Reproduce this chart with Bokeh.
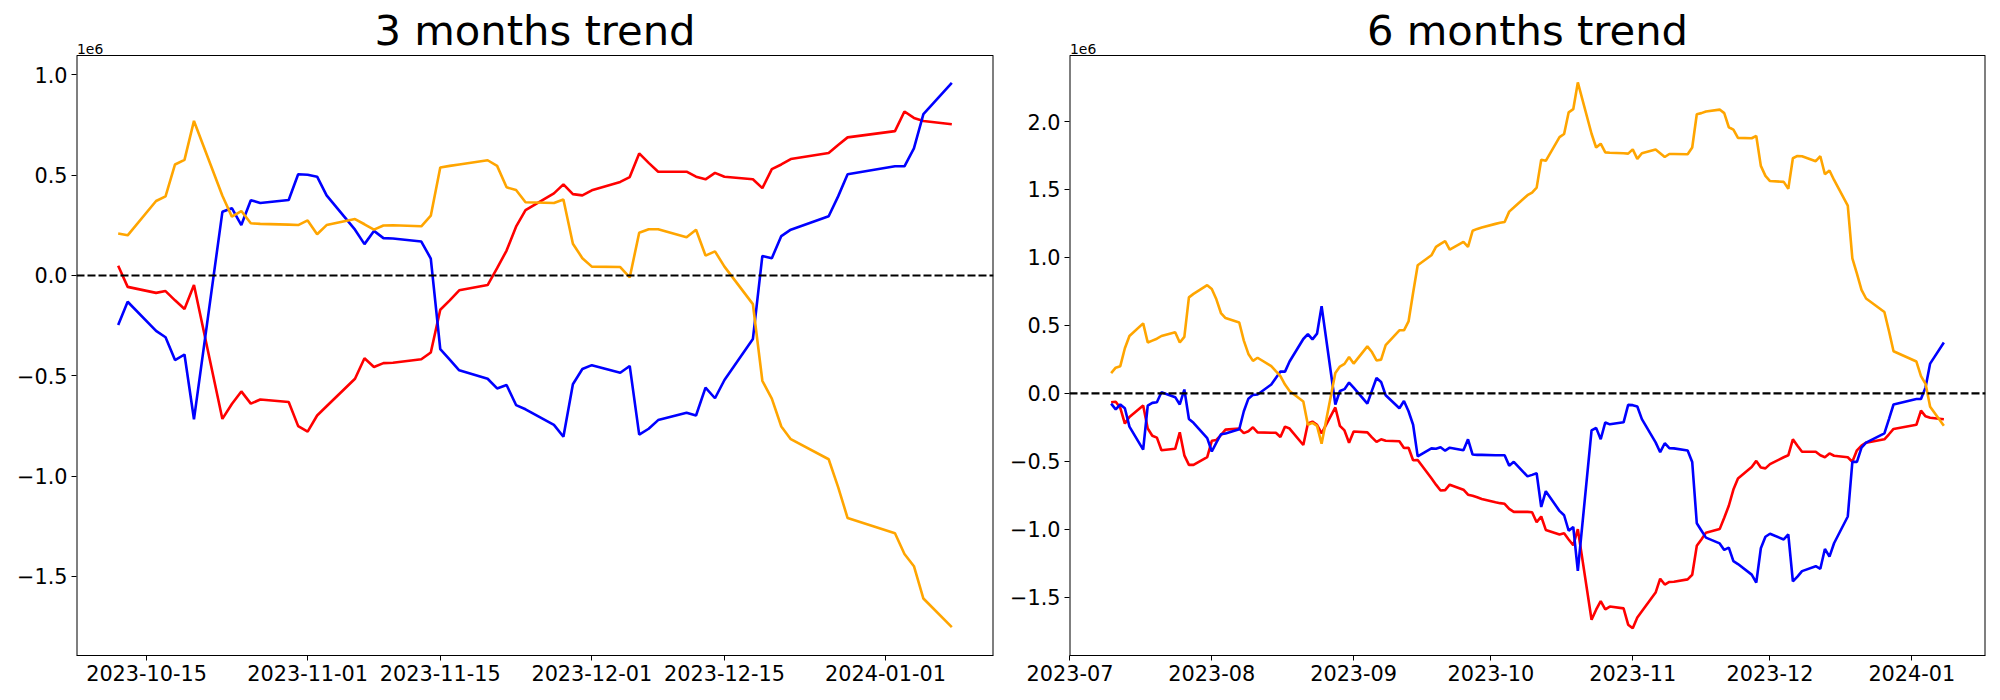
import pandas as pd
from bokeh.plotting import figure
from bokeh.layouts import row
from bokeh.models import (Range1d, FixedTicker, Span, Label, ColumnDataSource,
                          CustomJSTickFormatter)
from bokeh.embed import file_html
from bokeh.resources import INLINE

# ---------------- data (values in units of 1e6) ----------------
skip_days = ["2023-12-25", "2023-12-29", "2024-01-01"]


def trading_days(start, end):
    return [d for d in pd.bdate_range(start, end) if d.strftime("%Y-%m-%d") not in skip_days]


dates_3m = trading_days("2023-10-12", "2024-01-08")
dates_6m = trading_days("2023-07-10", "2024-01-08")

# 3 months trend
red_3m = [0.048, -0.057, -0.087, -0.078, -0.124, -0.167, -0.048, -0.715, -0.641, -0.578, -0.639, -0.618, -0.631, -0.751,
          -0.778, -0.698, -0.652, -0.515, -0.413, -0.456, -0.437, -0.435, -0.418, -0.384, -0.171, -0.124, -0.074,
          -0.048, 0.036, 0.124, 0.243, 0.325, 0.409, 0.454, 0.405, 0.399,
          0.424, 0.466, 0.490, 0.608, 0.561, 0.517, 0.517, 0.492, 0.479, 0.511, 0.492, 0.479, 0.435, 0.530, 0.553,
          0.580, 0.610, 0.650, 0.688,
          0.719, 0.817, 0.785, 0.770, 0.753]
blue_3m = [-0.247, -0.131, -0.276, -0.308, -0.422, -0.394, -0.717, 0.317, 0.335, 0.251, 0.375, 0.361, 0.376, 0.504,
           0.502, 0.492, 0.399, 0.228, 0.156, 0.222, 0.186, 0.184, 0.169, 0.084, -0.367, -0.420, -0.473,
           -0.515, -0.563, -0.546, -0.646, -0.667, -0.745, -0.804, -0.542, -0.466,
           -0.447, -0.485, -0.451, -0.793, -0.764, -0.721, -0.684, -0.698, -0.559, -0.612, -0.521, -0.317, 0.097,
           0.086, 0.196, 0.228, 0.295, 0.394, 0.504,
           0.544, 0.544, 0.633, 0.804, 0.960]
orange_3m = [0.209, 0.200, 0.371, 0.394, 0.553, 0.576, 0.770, 0.397, 0.293, 0.321, 0.260, 0.257, 0.253, 0.251,
             0.274, 0.205, 0.251, 0.281, 0.255, 0.228, 0.249, 0.250, 0.245, 0.298, 0.538, 0.546, 0.553,
             0.574, 0.546, 0.439, 0.426, 0.365, 0.361, 0.378, 0.158, 0.086,
             0.044, 0.042, -0.010, 0.213, 0.230, 0.230, 0.190, 0.228, 0.099, 0.120, 0.044, -0.143, -0.525, -0.614,
             -0.753, -0.816, -0.916, -1.055, -1.209,
             -1.285, -1.388, -1.449, -1.610, -1.753]

# 6 months trend
red_6m = [-0.065, -0.062, -0.107, -0.222, -0.174, -0.090, -0.259, -0.312, -0.326, -0.419, -0.408, -0.287, -0.456,
          -0.526, -0.526, -0.470,
          -0.349, -0.343, -0.307, -0.267, -0.259, -0.293, -0.279, -0.250, -0.287, -0.290, -0.290, -0.321, -0.245,
          -0.259, -0.380, -0.222, -0.208, -0.231, -0.295, -0.104, -0.239, -0.273, -0.363,
          -0.281, -0.287, -0.324, -0.357, -0.338, -0.349, -0.352, -0.402, -0.400, -0.492, -0.490, -0.625, -0.672,
          -0.715, -0.712, -0.672, -0.709, -0.746, -0.754, -0.765, -0.777,
          -0.802, -0.808, -0.813, -0.850, -0.872, -0.872, -0.875, -0.948, -0.906, -1.005, -1.038, -1.029, -1.075,
          -1.118, -0.999, -1.666, -1.592, -1.529, -1.590, -1.569, -1.582, -1.702,
          -1.729, -1.649, -1.603, -1.466, -1.364, -1.407, -1.388, -1.386, -1.369, -1.335, -1.122, -1.075, -1.025,
          -0.999, -0.915, -0.827, -0.708, -0.626, -0.542, -0.497, -0.546, -0.552,
          -0.521, -0.470, -0.456, -0.338, -0.385, -0.430, -0.430, -0.456, -0.470, -0.442, -0.459, -0.470, -0.504,
          -0.419, -0.385, -0.363, -0.338, -0.301, -0.262,
          -0.231, -0.127, -0.169, -0.180, -0.191]
blue_6m = [-0.076, -0.118, -0.082, -0.110, -0.245, -0.414, -0.090, -0.070, -0.065, 0.008, -0.028, -0.082, 0.028,
           -0.189, -0.217, -0.329,
           -0.428, -0.363, -0.301, -0.295, -0.264, -0.132, -0.039, -0.011, -0.008, 0.065, 0.113, 0.160, 0.160,
           0.234, 0.400, 0.436, 0.397, 0.439, 0.642, -0.082, 0.017, 0.031, 0.079,
           0.042, -0.076, 0.020, 0.113, 0.084, -0.014, -0.110, -0.056, -0.132, -0.231, -0.464, -0.405, -0.408,
           -0.397, -0.422, -0.400, -0.419, -0.338, -0.450, -0.453, -0.453,
           -0.456, -0.456, -0.456, -0.532, -0.504, -0.611, -0.600, -0.588, -0.836, -0.720, -0.865, -0.897, -1.011,
           -0.983, -1.306, -0.273, -0.254, -0.338, -0.214, -0.228, -0.213, -0.085,
           -0.087, -0.097, -0.190, -0.361, -0.433, -0.367, -0.403, -0.405, -0.420, -0.505, -0.956, -1.009, -1.062,
           -1.104, -1.152, -1.135, -1.235, -1.256, -1.334, -1.393, -1.140, -1.055,
           -1.033, -1.075, -1.038, -1.384, -1.348, -1.308, -1.272, -1.291, -1.145, -1.201, -1.103, -0.906, -0.504,
           -0.504, -0.400, -0.363, -0.295, -0.189, -0.082,
           -0.042, -0.042, 0.044, 0.219, 0.374]
orange_6m = [0.149, 0.189, 0.200, 0.332, 0.422, 0.515, 0.374, 0.388, 0.402, 0.422, 0.450, 0.374, 0.416, 0.706,
             0.732, 0.796,
             0.768, 0.692, 0.591, 0.554, 0.521, 0.388, 0.290, 0.239, 0.262, 0.200, 0.163, 0.127, 0.065, 0.017,
             -0.060, -0.231, -0.217, -0.239, -0.371, 0.149, 0.197, 0.217, 0.267,
             0.219, 0.346, 0.304, 0.242, 0.248, 0.355, 0.464, 0.464, 0.529, 0.740, 0.943, 1.016, 1.078, 1.100,
             1.120, 1.058, 1.114, 1.078, 1.196, 1.210, 1.221,
             1.247, 1.255, 1.261, 1.337, 1.367, 1.458, 1.477, 1.514, 1.719, 1.711, 1.885, 1.908, 2.068, 2.091,
             2.288, 1.910, 1.809, 1.837, 1.773, 1.770, 1.767, 1.764,
             1.795, 1.725, 1.767, 1.795, 1.767, 1.739, 1.761, 1.761, 1.759, 1.809, 2.054, 2.062, 2.074, 2.088,
             2.062, 1.958, 1.941, 1.880, 1.877, 1.894, 1.674, 1.600,
             1.562, 1.556, 1.505, 1.730, 1.747, 1.745, 1.708, 1.745, 1.612, 1.640, 1.570, 1.382, 0.993, 0.881,
             0.762, 0.698, 0.599, 0.459, 0.310,
             0.234, 0.127, 0.070, -0.098, -0.239]

titles = ["3 months trend", "6 months trend"]
xticks_3m = ["2023-10-15", "2023-11-01", "2023-11-15", "2023-12-01", "2023-12-15", "2024-01-01"]
xticks_6m = ["2023-07-01", "2023-08-01", "2023-09-01", "2023-10-01", "2023-11-01", "2023-12-01", "2024-01-01"]
yticks_3m = [-1.5, -1.0, -0.5, 0.0, 0.5, 1.0]
yticks_6m = [-1.5, -1.0, -0.5, 0.0, 0.5, 1.0, 1.5, 2.0]
yrange_3m = (-1.894, 1.096)
yrange_6m = (-1.929, 2.486)
offset_text = "1e6"

FONT = "DejaVu Sans"
AXES_H = 600     # visible axes box height
HEAD = 55        # space above the box (title area, inside the frame)


def ms(t):
    return pd.Timestamp(t).value / 1e6


def make_fig(title, dates, red, blue, orange, xticks, label_len, yticks, yrange,
             border_left, border_right, frame_width):
    start, end = dates[0], dates[-1]
    pad = (end - start) * 0.05
    x0, x1 = ms(start - pad), ms(end + pad)
    ybot, ytop = yrange
    scale = AXES_H / (ytop - ybot)
    yend = ytop + HEAD / scale
    p = figure(x_axis_type="datetime", frame_width=frame_width, frame_height=AXES_H + HEAD,
               min_border_left=border_left, min_border_right=border_right,
               min_border_top=0, min_border_bottom=36, title_location=None,
               x_range=Range1d(x0, x1), y_range=Range1d(ybot, yend),
               output_backend="svg", toolbar_location=None)
    p.grid.visible = False
    p.outline_line_color = None
    p.background_fill_color = "white"
    p.border_fill_color = "white"

    for ax in (p.xaxis[0], p.yaxis[0]):
        ax.axis_line_color = "black"
        ax.major_tick_line_color = "black"
        ax.major_tick_out = 5
        ax.major_tick_in = 0
        ax.minor_tick_out = 0
        ax.minor_tick_in = 0
        ax.major_label_text_font = FONT
        ax.major_label_text_font_size = "20.8px"
        ax.major_label_text_color = "black"
        ax.major_label_standoff = 4
    p.yaxis.axis_line_color = None

    p.xaxis.ticker = FixedTicker(ticks=[ms(t) for t in xticks])
    p.xaxis.formatter = CustomJSTickFormatter(
        code="return new Date(tick).toISOString().slice(0, %d);" % label_len)
    p.yaxis.ticker = FixedTicker(ticks=yticks)
    p.yaxis.formatter = CustomJSTickFormatter(
        code="return tick.toFixed(1).replace('-', '\\u2212');")

    # axes box (left/right edges sit on the frame border, top edge below the title area)
    p.segment(x0=[x0, x1], y0=[ybot, ybot], x1=[x0, x1], y1=[ytop, ytop],
              line_color="black", line_width=2)
    p.segment(x0=[x0], y0=[ytop], x1=[x1], y1=[ytop], line_color="black", line_width=1.1)

    src = ColumnDataSource(dict(x=dates, red=red, blue=blue, orange=orange))
    p.line("x", "red", source=src, line_color="red", line_width=2.6)
    p.line("x", "blue", source=src, line_color="blue", line_width=2.6)
    p.line("x", "orange", source=src, line_color="orange", line_width=2.6)

    p.add_layout(Span(location=0, dimension="width", line_color="black",
                      line_width=2.1, line_dash="8 3"))
    p.add_layout(Label(x=0.5, y=AXES_H + 7, x_units="screen", y_units="screen",
                       text=offset_text, text_font=FONT, text_font_size="13.9px",
                       text_align="left", text_baseline="alphabetic", text_color="black"))
    p.add_layout(Label(x=frame_width / 2, y=AXES_H + 25, x_units="screen", y_units="screen",
                       text=title, text_font=FONT, text_font_size="41.7px",
                       text_align="center", text_baseline="alphabetic", text_color="black"))
    return p


p1 = make_fig(titles[0], dates_3m, red_3m, blue_3m, orange_3m, xticks_3m, 10,
              yticks_3m, yrange_3m, 76, 10, 917)
p2 = make_fig(titles[1], dates_6m, red_6m, blue_6m, orange_6m, xticks_6m, 7,
              yticks_6m, yrange_6m, 66, 5, 916)

layout = row(p1, p2)
open("out.html", "w").write(file_html(layout, INLINE))
